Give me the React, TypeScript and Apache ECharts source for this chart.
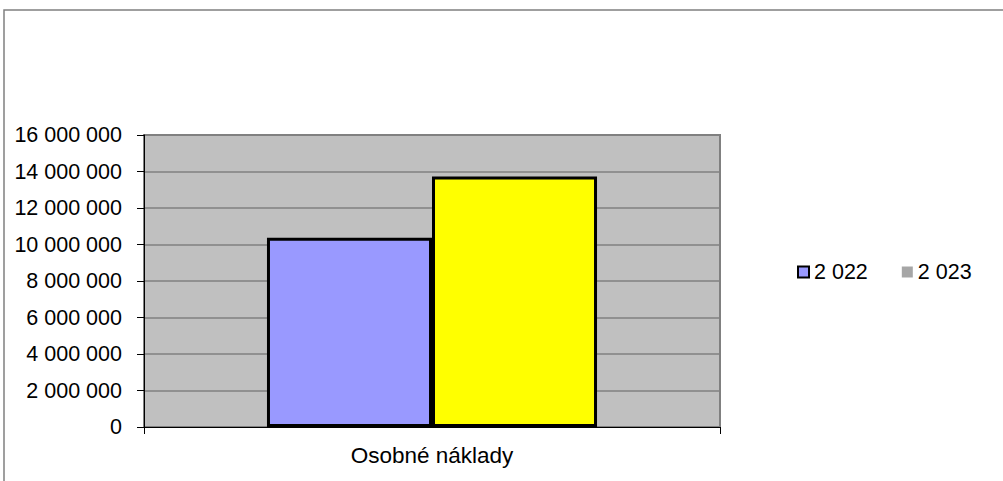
import React, { useEffect, useRef } from "react";
import * as echarts from "echarts";

const categories = ["Osobné náklady"];
const seriesNames = ["2 022", "2 023"];
const values2022 = [10370000];
const values2023 = [13720000];
const yTicks = { min: 0, max: 16000000, interval: 2000000 };

const FONT = "'Liberation Sans', Arial, sans-serif";
const fmt = (v: number) => String(v).replace(/\B(?=(\d{3})+(?!\d))/g, " ");

export default function App() {
  const ref = useRef<HTMLDivElement>(null);
  useEffect(() => {
    if (!ref.current) return;
    const chart = echarts.init(ref.current, undefined, { renderer: "svg" });
    chart.setOption({
      animation: false,
      backgroundColor: "#ffffff",
      textStyle: { fontFamily: FONT },
      graphic: [
        {
          type: "rect",
          shape: { x: 4, y: 10, width: 1100, height: 600 },
          style: { fill: "none", stroke: "#808080", lineWidth: 1.5 },
          silent: true,
          z: -1,
        },
      ],
      grid: {
        left: 144,
        top: 135,
        width: 576,
        height: 292,
        show: true,
        backgroundColor: "#C0C0C0",
        borderColor: "#808080",
        borderWidth: 2,
      },
      legend: {
        left: 792,
        top: 256,
        itemWidth: 11,
        itemHeight: 11,
        itemGap: 34,
        icon: "rect",
        textStyle: { fontFamily: FONT, fontSize: 21.5, color: "#000" },
        data: [
          { name: seriesNames[0], itemStyle: { color: "#9999FF", borderColor: "#000", borderWidth: 2 } },
          { name: seriesNames[1], itemStyle: { color: "#A6A6A6", borderWidth: 0 } },
        ],
      },
      xAxis: {
        type: "category",
        data: categories,
        boundaryGap: true,
        axisLine: { show: true, lineStyle: { color: "#000", width: 1 } },
        axisTick: { show: true, length: 7, lineStyle: { color: "#000" } },
        axisLabel: { fontFamily: FONT, fontSize: 22.5, color: "#000", margin: 17 },
        splitLine: { show: false },
      },
      yAxis: {
        type: "value",
        min: yTicks.min,
        max: yTicks.max,
        interval: yTicks.interval,
        axisLine: { show: true, lineStyle: { color: "#000", width: 1 } },
        axisTick: { show: true, length: 7, lineStyle: { color: "#000" } },
        axisLabel: { fontFamily: FONT, fontSize: 21.5, color: "#000", margin: 22, formatter: (v: number) => fmt(v) },
        splitLine: { show: true, lineStyle: { color: "#808080", width: 1.5 } },
      },
      series: [
        {
          name: seriesNames[0],
          type: "bar",
          data: values2022,
          barGap: "0%",
          barCategoryGap: "42.7%",
          itemStyle: { color: "#9999FF", borderColor: "#000", borderWidth: 3 },
        },
        {
          name: seriesNames[1],
          type: "bar",
          data: values2023,
          itemStyle: { color: "#FFFF00", borderColor: "#000", borderWidth: 3 },
        },
      ],
    });
    return () => chart.dispose();
  }, []);
  return (
    <div
      ref={ref}
      style={{ position: "fixed", left: 0, top: 0, width: 1003, height: 481 }}
    />
  );
}
